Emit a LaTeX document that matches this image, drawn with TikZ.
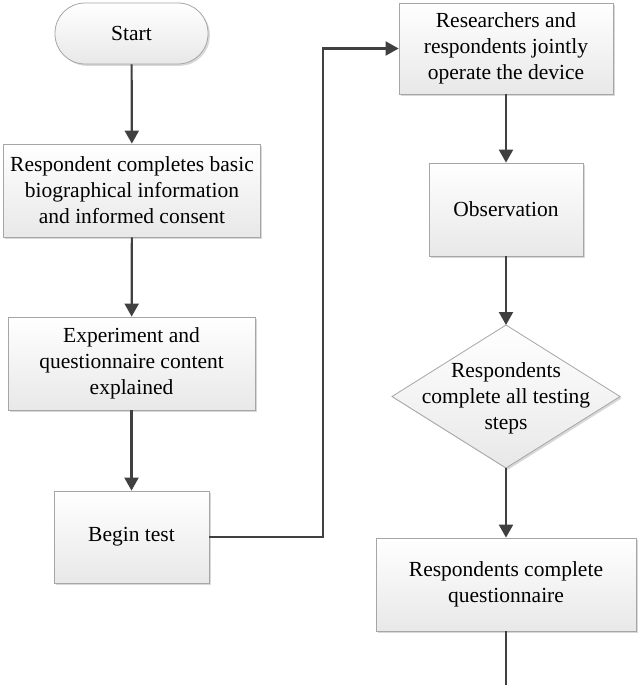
\documentclass[tikz,border=0pt]{standalone}
\usepackage{fontspec}
\setmainfont{Liberation Serif}
\usetikzlibrary{shadows,arrows.meta}
\begin{document}
\begin{tikzpicture}[x=1pt,y=-1pt,
  boxbase/.style={draw=black!35, line width=0.8pt, top color=white, bottom color=black!9,
    drop shadow={shadow xshift=1.8pt,shadow yshift=-1.8pt,fill=black!22,opacity=0.7}},
  box/.style={boxbase, rectangle, align=center, inner sep=0pt,
    font=\fontsize{21.5}{26}\selectfont},
  conn/.style={draw=black!75, line width=2.2pt, -{Triangle[length=13pt,width=14pt]}},
  plain/.style={draw=black!75, line width=2.2pt},
  txt/.style={align=center, inner sep=0pt, font=\fontsize{21.5}{26}\selectfont}
]
\useasboundingbox (0,0) rectangle (637,685);

\node[box, rounded corners=30pt, minimum width=153pt, minimum height=61pt] (start) at (131.5,33.5) {Start};
\node[box, minimum width=257pt, minimum height=93pt] (bio) at (132,190.5)
  {Respondent completes basic\\biographical information\\and informed consent};
\node[box, minimum width=247pt, minimum height=93pt] (expl) at (131.5,363.5)
  {Experiment and\\questionnaire content\\explained};
\node[box, minimum width=155pt, minimum height=92pt] (begin) at (131.5,537) {Begin test};
\node[box, minimum width=214pt, minimum height=91pt] (res) at (506,48.5)
  {Researchers and\\respondents jointly\\operate the device};
\node[box, minimum width=154pt, minimum height=93pt] (obs) at (506,209.5) {Observation};

% decision diamond
\coordinate (dn) at (506,325);
\coordinate (ds) at (506,468);
\coordinate (dw) at (392,396.5);
\coordinate (de) at (620,396.5);
\path[boxbase] (dn) -- (de) -- (ds) -- (dw) -- cycle;
\node[txt] (dia) at (506,398) {Respondents\\complete all testing\\steps};

\node[box, minimum width=260pt, minimum height=93pt] (quest) at (506,584.5)
  {Respondents complete\\questionnaire};

\coordinate (turn) at (323,537);
\coordinate (qend) at (506,686);

\draw[conn] (start) -- (bio);
\draw[conn] (bio) -- (expl);
\draw[conn] (expl) -- (begin);
\draw[conn] (begin.east) -- (turn) |- (res.west);
\draw[conn] (res) -- (obs);
\draw[conn] (obs) -- (dn);
\draw[conn] (ds) -- (quest);
\draw[plain] (quest.south) -- (qend);
\end{tikzpicture}
\end{document}
